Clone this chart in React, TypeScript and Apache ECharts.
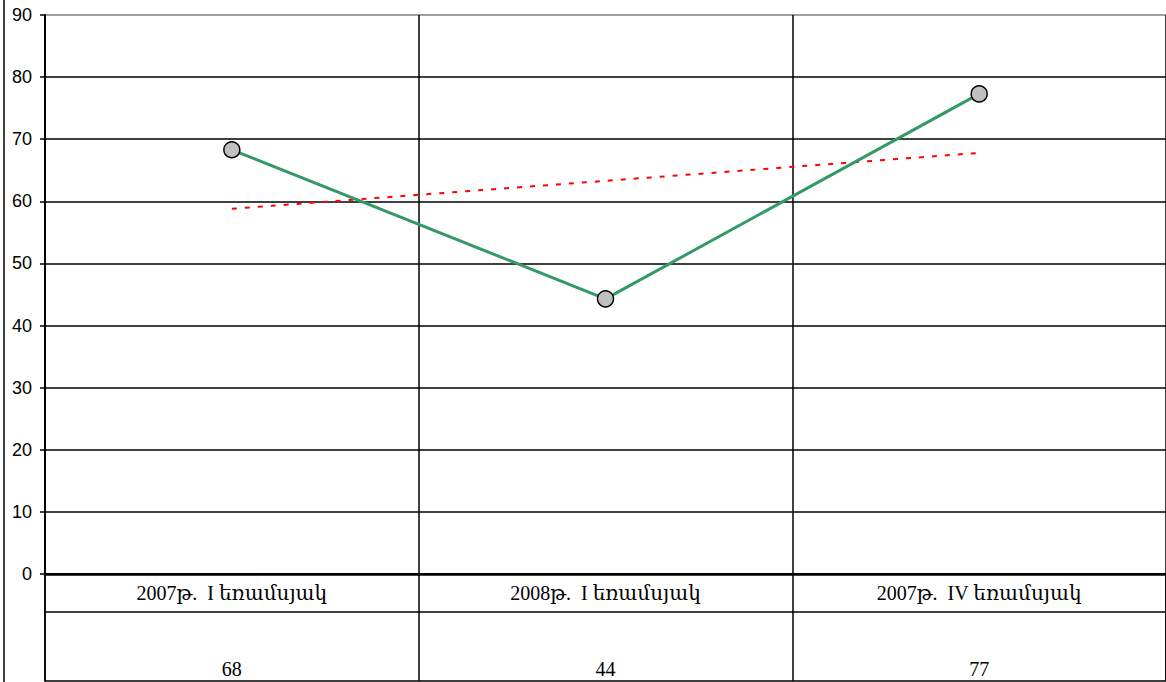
import React, { useEffect, useRef } from "react";
import * as echarts from "echarts";

const categories = ["2007թ.  I եռամսյակ", "2008թ.  I եռամսյակ", "2007թ.  IV եռամսյակ"];
const values = [68.3, 44.3, 77.3];
const tableValues = ["68", "44", "77"];
const yMin = 0;
const yMax = 90;
const yInterval = 10;

function linearTrend(v: number[]): number[] {
  const n = v.length;
  const xs = v.map((_, i) => i);
  const mx = xs.reduce((a, b) => a + b, 0) / n;
  const my = v.reduce((a, b) => a + b, 0) / n;
  let num = 0, den = 0;
  for (let i = 0; i < n; i++) { num += (xs[i] - mx) * (v[i] - my); den += (xs[i] - mx) ** 2; }
  const slope = num / den;
  return xs.map((x) => +(my + slope * (x - mx)).toFixed(2));
}

export default function App() {
  const ref = useRef<HTMLDivElement>(null);
  useEffect(() => {
    if (!ref.current) return;
    const chart = echarts.init(ref.current, null, { renderer: "svg" });
    const splitColors = Array.from({ length: 10 }, (_, i) => (i === 9 ? "#808080" : "#000000"));
    const serif = "'Liberation Serif', 'DejaVu Serif', serif";
    chart.setOption({
      animation: false,
      backgroundColor: "#ffffff",
      grid: [
        { left: 45, top: 15, width: 1122, height: 559 },
        { left: 45, top: 574, width: 1122, height: 107, show: true, borderColor: "#000", borderWidth: 1.5, backgroundColor: "transparent" },
      ],
      xAxis: [
        {
          type: "category",
          gridIndex: 0,
          data: categories,
          boundaryGap: true,
          axisLine: { show: true, lineStyle: { color: "#000", width: 2.5 } },
          axisTick: { show: false },
          splitLine: { show: true, lineStyle: { color: "#000", width: 1.5 } },
          axisLabel: { margin: 9, fontFamily: serif, fontSize: 20, color: "#000", interval: 0 },
        },
        {
          type: "category",
          gridIndex: 0,
          data: tableValues,
          position: "bottom",
          boundaryGap: true,
          axisLine: { show: false },
          axisTick: { show: false },
          splitLine: { show: false },
          axisLabel: { margin: 85, fontFamily: serif, fontSize: 20, color: "#000", interval: 0 },
        },
        {
          type: "category",
          gridIndex: 1,
          data: categories,
          boundaryGap: true,
          axisLine: { show: false },
          axisTick: { show: false },
          axisLabel: { show: false },
          splitLine: { show: true, lineStyle: { color: "#000", width: 1.5 } },
        },
      ],
      yAxis: [
        {
          type: "value",
          gridIndex: 0,
          min: yMin,
          max: yMax,
          interval: yInterval,
          axisLine: { show: true, lineStyle: { color: "#000", width: 2 } },
          axisTick: { show: true, length: 5, lineStyle: { color: "#000", width: 1.5 } },
          splitLine: { show: true, lineStyle: { color: splitColors, width: 1.5 } },
          axisLabel: { margin: 13, fontFamily: "'Liberation Sans', Arial, sans-serif", fontSize: 18, color: "#000" },
        },
        {
          type: "value",
          gridIndex: 1,
          show: false,
        },
      ],
      graphic: [
        { type: "line", shape: { x1: 45, y1: 612, x2: 1166, y2: 612 }, style: { stroke: "#000", lineWidth: 1.5 } },
        { type: "line", shape: { x1: 4, y1: 0, x2: 4, y2: 682 }, style: { stroke: "#404040", lineWidth: 2 } },
      ],
      series: [
        {
          name: "trend",
          type: "line",
          xAxisIndex: 0,
          yAxisIndex: 0,
          data: linearTrend(values),
          symbol: "none",
          lineStyle: { color: "#ff0000", width: 2, type: [5, 8] },
          z: 2,
        },
        {
          name: "values",
          type: "line",
          xAxisIndex: 0,
          yAxisIndex: 0,
          data: values,
          symbol: "circle",
          symbolSize: 16,
          lineStyle: { color: "#339966", width: 3 },
          itemStyle: { color: "#c0c0c0", borderColor: "#000", borderWidth: 1.5 },
          z: 3,
        },
      ],
    });
    return () => chart.dispose();
  }, []);
  return <div ref={ref} style={{ position: "fixed", left: 0, top: 0, width: 1166, height: 682 }} />;
}
